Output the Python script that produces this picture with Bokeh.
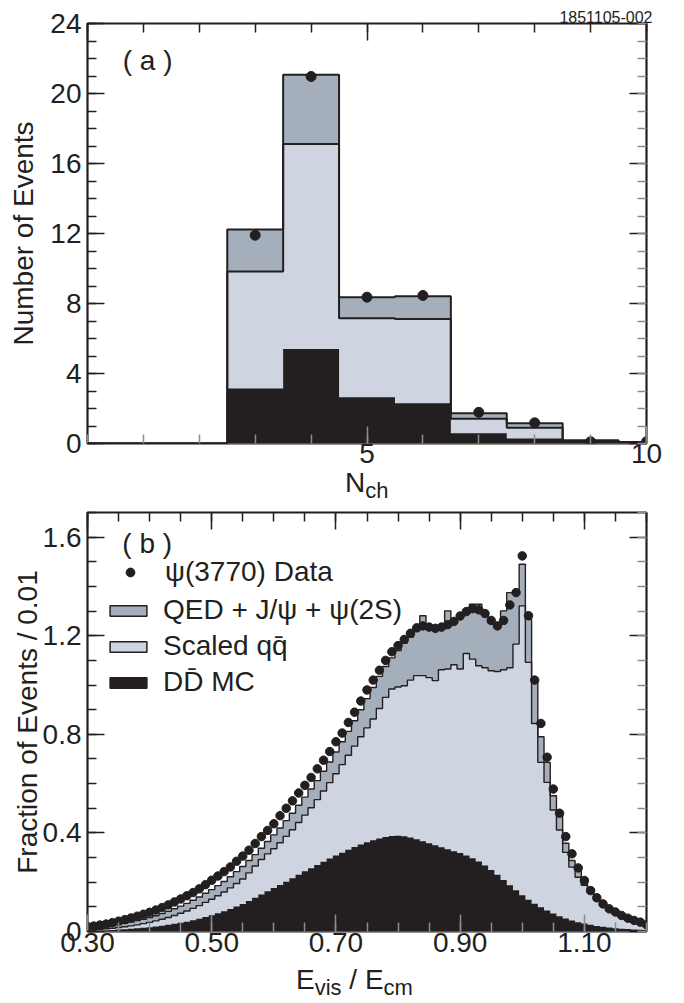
from bokeh.plotting import figure
from bokeh.layouts import column
from bokeh.models import (Range1d, FixedTicker, LinearAxis, Label, Legend, Title, Div,
                          LegendItem, NumeralTickFormatter)
from bokeh.embed import file_html
from bokeh.resources import INLINE

FONT = "Liberation Sans"
INK = "#231f20"
QED_FILL = "#a5afbc"
QQ_FILL = "#ced5e0"
TICK_GRAY = "#8c8c8c"

# ---------------- panel (a): charged multiplicity ----------------
nch = [0, 1, 2, 3, 4, 5, 6, 7, 8, 9, 10]
nch_dd = [0, 0, 0, 3.15, 5.40, 2.65, 2.30, 0.58, 0.28, 0.08, 0.04]        # DD MC
nch_qq_cum = [0, 0, 0, 9.83, 17.12, 7.16, 7.12, 1.41, 0.90, 0.14, 0.07]   # DD + scaled qq
nch_total = [0, 0, 0, 12.23, 21.07, 8.36, 8.42, 1.73, 1.16, 0.18, 0.09]   # + QED + J/psi + psi(2S)
nch_data = [0, 0, 0, 11.90, 20.97, 8.36, 8.46, 1.78, 1.18, 0.10, 0.10]   # psi(3770) data

# ---------------- panel (b): Evis / Ecm ----------------
evis = [0.30, 0.31, 0.32, 0.33, 0.34, 0.35, 0.36, 0.37, 0.38, 0.39,
        0.40, 0.41, 0.42, 0.43, 0.44, 0.45, 0.46, 0.47, 0.48, 0.49,
        0.50, 0.51, 0.52, 0.53, 0.54, 0.55, 0.56, 0.57, 0.58, 0.59,
        0.60, 0.61, 0.62, 0.63, 0.64, 0.65, 0.66, 0.67, 0.68, 0.69,
        0.70, 0.71, 0.72, 0.73, 0.74, 0.75, 0.76, 0.77, 0.78, 0.79,
        0.80, 0.81, 0.82, 0.83, 0.84, 0.85, 0.86, 0.87, 0.88, 0.89,
        0.90, 0.91, 0.92, 0.93, 0.94, 0.95, 0.96, 0.97, 0.98, 0.99,
        1.00, 1.01, 1.02, 1.03, 1.04, 1.05, 1.06, 1.07, 1.08, 1.09,
        1.10, 1.11, 1.12, 1.13, 1.14, 1.15, 1.16, 1.17, 1.18, 1.19, 1.20]

evis_dd = [0.003, 0.004, 0.004, 0.005, 0.006, 0.008, 0.009, 0.011, 0.013, 0.015,
           0.017, 0.020, 0.023, 0.027, 0.031, 0.035, 0.040, 0.046, 0.052, 0.059,
           0.066, 0.074, 0.082, 0.091, 0.101, 0.112, 0.124, 0.137, 0.150, 0.163,
           0.176, 0.189, 0.202, 0.216, 0.230, 0.244, 0.257, 0.270, 0.283, 0.296,
           0.308, 0.320, 0.332, 0.343, 0.353, 0.362, 0.370, 0.377, 0.383, 0.387,
           0.388, 0.386, 0.381, 0.374, 0.366, 0.358, 0.350, 0.342, 0.334, 0.326,
           0.318, 0.308, 0.297, 0.284, 0.268, 0.250, 0.230, 0.209, 0.188, 0.167,
           0.147, 0.129, 0.113, 0.098, 0.085, 0.073, 0.062, 0.053, 0.045, 0.038,
           0.032, 0.027, 0.022, 0.019, 0.016, 0.013, 0.011, 0.010, 0.008, 0.007, 0.006]

evis_qq_cum = [0.006, 0.007, 0.009, 0.011, 0.013, 0.016, 0.019, 0.023, 0.027, 0.032,
               0.037, 0.043, 0.050, 0.057, 0.065, 0.074, 0.083, 0.094, 0.105, 0.118,
               0.131, 0.145, 0.160, 0.177, 0.195, 0.213, 0.238, 0.266, 0.292, 0.315,
               0.336, 0.360, 0.386, 0.413, 0.442, 0.472, 0.502, 0.535, 0.570, 0.604,
               0.640, 0.677, 0.715, 0.752, 0.790, 0.826, 0.862, 0.905, 0.950, 0.984,
               0.992, 0.997, 1.020, 1.038, 1.038, 1.030, 1.018, 1.062, 1.065, 1.082,
               1.065, 1.128, 1.105, 1.078, 1.070, 1.058, 1.055, 1.062, 1.070, 1.166,
               1.321, 1.092, 0.844, 0.686, 0.605, 0.493, 0.412, 0.321, 0.261, 0.220,
               0.187, 0.155, 0.126, 0.103, 0.084, 0.070, 0.058, 0.048, 0.040, 0.032, 0.025]

evis_total = [0.012, 0.014, 0.017, 0.020, 0.024, 0.028, 0.033, 0.038, 0.044, 0.050,
              0.057, 0.064, 0.073, 0.082, 0.092, 0.103, 0.114, 0.127, 0.140, 0.155,
              0.170, 0.186, 0.203, 0.222, 0.243, 0.264, 0.288, 0.312, 0.338, 0.365,
              0.392, 0.420, 0.450, 0.480, 0.512, 0.545, 0.578, 0.612, 0.650, 0.688,
              0.728, 0.770, 0.812, 0.855, 0.900, 0.945, 0.990, 1.035, 1.075, 1.110,
              1.140, 1.170, 1.195, 1.220, 1.281, 1.225, 1.220, 1.225, 1.301, 1.250,
              1.270, 1.290, 1.328, 1.328, 1.285, 1.250, 1.235, 1.301, 1.375, 1.375,
              1.490, 1.267, 1.011, 0.790, 0.686, 0.551, 0.477, 0.358, 0.288, 0.247,
              0.200, 0.160, 0.130, 0.106, 0.086, 0.072, 0.060, 0.050, 0.041, 0.033, 0.026]

evis_data = [0.020, 0.022, 0.026, 0.030, 0.036, 0.042, 0.048, 0.055, 0.062, 0.070,
             0.078, 0.087, 0.097, 0.108, 0.120, 0.132, 0.145, 0.158, 0.173, 0.190,
             0.208, 0.225, 0.243, 0.262, 0.285, 0.306, 0.330, 0.357, 0.385, 0.410,
             0.437, 0.470, 0.500, 0.530, 0.562, 0.593, 0.625, 0.660, 0.695, 0.730,
             0.770, 0.805, 0.848, 0.890, 0.935, 0.980, 1.020, 1.060, 1.100, 1.135,
             1.160, 1.185, 1.210, 1.232, 1.240, 1.235, 1.230, 1.235, 1.245, 1.258,
             1.280, 1.298, 1.310, 1.305, 1.290, 1.262, 1.240, 1.262, 1.325, 1.375,
             1.524, 1.281, 1.020, 0.844, 0.707, 0.578, 0.480, 0.385, 0.315, 0.258,
             0.207, 0.166, 0.137, 0.112, 0.092, 0.079, 0.065, 0.054, 0.045, 0.038, 0.027]

EVIS_BIN = 0.01


def style_axis(ax, tick_color, standoff):
    ax.axis_line_color = None
    ax.major_tick_in = 17
    ax.major_tick_out = 0
    ax.minor_tick_in = 9
    ax.minor_tick_out = 0
    ax.major_tick_line_color = tick_color
    ax.minor_tick_line_color = tick_color
    ax.major_tick_line_width = 1.5
    ax.minor_tick_line_width = 1.5
    ax.major_label_text_font = FONT
    ax.major_label_text_color = INK
    ax.major_label_text_font_size = "28px"
    ax.major_label_standoff = standoff
    ax.axis_label_text_font = FONT
    ax.axis_label_text_font_size = "28px"
    ax.axis_label_text_font_style = "normal"
    ax.axis_label_text_color = INK


def tick_only_axis(positions, length, color):
    ax = LinearAxis(ticker=FixedTicker(ticks=[], minor_ticks=positions))
    ax.axis_line_color = None
    ax.major_tick_in = 0
    ax.major_tick_out = 0
    ax.minor_tick_in = length
    ax.minor_tick_out = 0
    ax.minor_tick_line_color = color
    ax.minor_tick_line_width = 1.5
    ax.major_label_standoff = 0
    ax.axis_label_standoff = 0
    return ax


def make_fig(xr, yr, top, fh, bottom):
    p = figure(frame_width=559, frame_height=fh, x_range=Range1d(*xr), y_range=Range1d(*yr),
               min_border_left=87, min_border_right=38, min_border_top=top,
               min_border_bottom=bottom, output_backend="svg", toolbar_location=None,
               background_fill_color="white", border_fill_color="white")
    p.grid.visible = False
    p.outline_line_color = INK
    p.outline_line_width = 2.2
    p.outline_line_alpha = 1
    return p


def frame_axes(p, xmaj, xmin, ymaj, ymin, xlabels, ylabels, x_standoff):
    bx = p.below[0]
    ly = p.left[0]
    bx.ticker = FixedTicker(ticks=xlabels, minor_ticks=xmin)
    ly.ticker = FixedTicker(ticks=ylabels, minor_ticks=ymin)
    style_axis(bx, TICK_GRAY, x_standoff)
    style_axis(ly, INK, 6)
    p.add_layout(tick_only_axis(xmaj, 17, INK), "above")
    p.add_layout(tick_only_axis(xmin, 9, INK), "above")
    p.add_layout(tick_only_axis(ymaj, 17, INK), "right")
    p.add_layout(tick_only_axis(ymin, 9, TICK_GRAY), "right")
    return bx, ly


def inner_text(p, x, y, s):
    p.add_layout(Label(x=x, y=y, text=s, text_font=FONT, text_font_size="28px",
                       text_color=INK, text_baseline="middle"))


def axis_title_div(html, left, top, height):
    css = ("position:relative; left:%dpx; top:%dpx; font-family:'Liberation Sans'; "
           "font-size:28px; line-height:28px; color:%s; white-space:nowrap;" % (left, top, INK))
    return Div(text='<div style="%s">%s</div>' % (css, html), width=684, height=height,
               margin=0, styles={"overflow": "visible"})


SUB = '<span style="font-size:22px; position:relative; top:6px;">%s</span>'

# ================= top figure =================
p1 = make_fig((0, 10), (0, 24), 23, 420, 32)
p1.varea_step(x=nch, y1=0, y2=nch_total, step_mode="center", fill_color=QED_FILL)
p1.varea_step(x=nch, y1=0, y2=nch_qq_cum, step_mode="center", fill_color=QQ_FILL)
p1.varea_step(x=nch, y1=0, y2=nch_dd, step_mode="center", fill_color=INK)
p1.step(x=nch, y=nch_total, mode="center", line_color=INK, line_width=2)
p1.step(x=nch, y=nch_qq_cum, mode="center", line_color=INK, line_width=2)
dx = [x for x, v in zip(nch, nch_data) if v > 0]
dy = [v for v in nch_data if v > 0]
p1.scatter(x=dx, y=dy, size=10, marker="circle", fill_color=INK, line_color=INK)

bx1, ly1 = frame_axes(p1, [0, 5, 10], list(range(0, 11)), list(range(0, 25, 4)),
                      list(range(0, 25)), [5, 10], list(range(0, 25, 4)), 0)
ly1.axis_label = "Number of Events"
ly1.axis_label_standoff = 8

inner_text(p1, 0.63, 21.9, "( a )")
p1.add_layout(Title(text="1851105-002", align="right", offset=-6, standoff=2, text_font=FONT,
                    text_font_size="16px", text_font_style="normal", text_color=INK), "above")

# ================= bottom figure =================
p2 = make_fig((0.3, 1.2), (0, 1.7), 7, 419, 34)
p2.varea_step(x=evis, y1=0, y2=evis_total, step_mode="center", fill_color=QED_FILL)
p2.varea_step(x=evis, y1=0, y2=evis_qq_cum, step_mode="center", fill_color=QQ_FILL)
p2.varea_step(x=evis, y1=0, y2=evis_dd, step_mode="center", fill_color=INK)
p2.step(x=evis, y=evis_total, mode="center", line_color=INK, line_width=1.4)
p2.step(x=evis, y=evis_qq_cum, mode="center", line_color=INK, line_width=1.4)
dots2 = p2.scatter(x=evis, y=evis_data, size=8.5, marker="circle", fill_color=INK, line_color=INK)

xminor2 = [round(0.3 + 0.05 * i, 2) for i in range(19)]
yminor2 = [round(0.1 * i, 1) for i in range(18)]
bx2, ly2 = frame_axes(p2, [0.3, 0.5, 0.7, 0.9, 1.1], xminor2, [0, 0.4, 0.8, 1.2, 1.6], yminor2,
                      [0.3, 0.5, 0.7, 0.9, 1.1], [0, 0.4, 0.8, 1.2, 1.6], 1)
bx2.formatter = NumeralTickFormatter(format="0.00")
ly2.major_label_overrides = {0: "0"}
ly2.axis_label = "Fraction of Events / 0.01"
ly2.axis_label_standoff = -3

# hidden histogram bars: they only lend their boxed style to the legend keys
lefts = [c - EVIS_BIN / 2 for c in evis]
rights = [c + EVIS_BIN / 2 for c in evis]
k_qed = p2.quad(left=lefts, right=rights, bottom=0, top=evis_total, fill_color=QED_FILL,
                line_color=INK, line_width=1.5, visible=False)
k_qq = p2.quad(left=lefts, right=rights, bottom=0, top=evis_qq_cum, fill_color=QQ_FILL,
               line_color=INK, line_width=1.5, visible=False)
k_dd = p2.quad(left=lefts, right=rights, bottom=0, top=evis_dd, fill_color=INK,
               line_color=INK, line_width=1.5, visible=False)

common = dict(glyph_width=46, label_standoff=12, padding=0, margin=0, spacing=4,
              border_line_alpha=0, background_fill_alpha=0, label_text_font=FONT,
              label_text_font_size="28px", label_text_color=INK)
leg1 = Legend(items=[LegendItem(label="\u03c8(3770) Data", renderers=[dots2])],
              location=(20, 343), glyph_height=22, **common)
leg2 = Legend(items=[LegendItem(label="QED + J/\u03c8 + \u03c8(2S)", renderers=[k_qed]),
                     LegendItem(label="Scaled qq\u0304", renderers=[k_qq]),
                     LegendItem(label="DD\u0304 MC", renderers=[k_dd])],
              location=(18, 233), glyph_height=13, **common)
p2.add_layout(leg1)
p2.add_layout(leg2)

inner_text(p2, 0.356, 1.573, "( b )")

nch_title = axis_title_div("N" + SUB % "ch", 345, -6, 30)
evis_title = axis_title_div("E" + SUB % "vis" + " / E" + SUB % "cm", 296, 1, 36)

layout = column(p1, nch_title, p2, evis_title, spacing=0)
open("out.html", "w").write(file_html(layout, INLINE))
